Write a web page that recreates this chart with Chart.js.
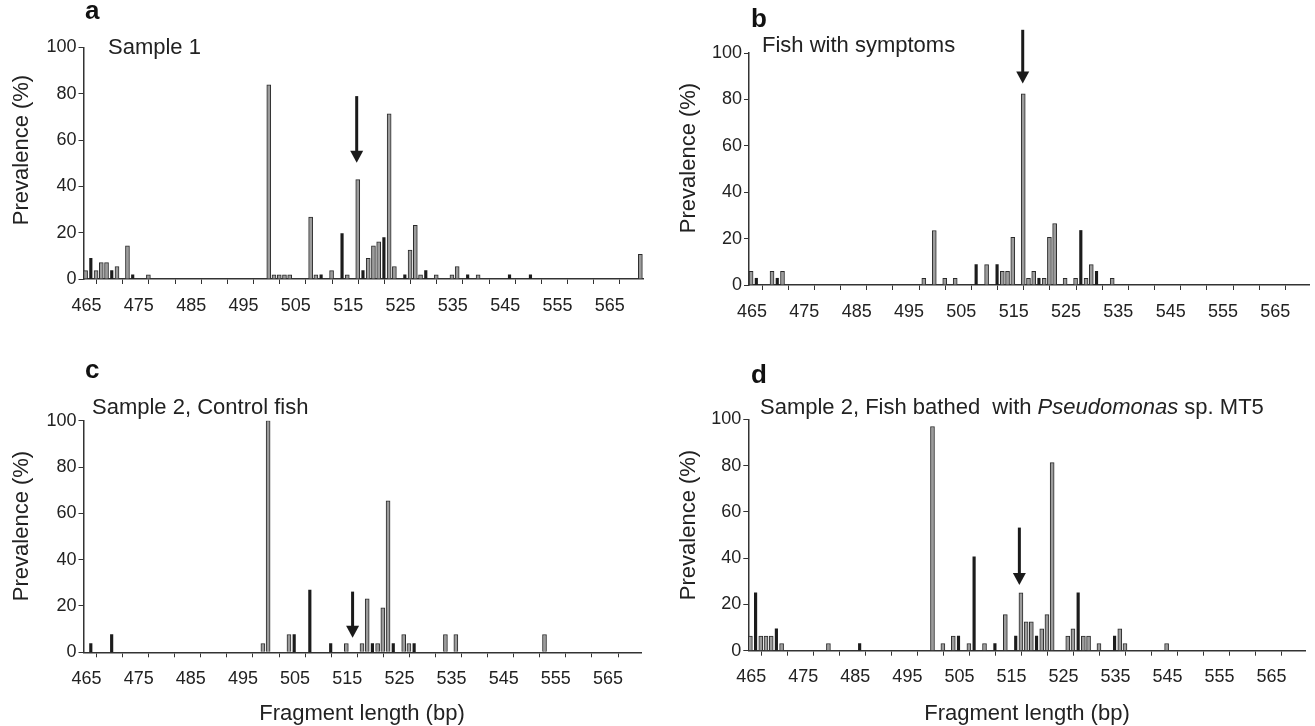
<!DOCTYPE html>
<html>
<head>
<meta charset="utf-8">
<script src="https://cdn.jsdelivr.net/npm/chart.js@4.4.1/dist/chart.umd.min.js"></script>
<style>
body{margin:0;background:#fff;width:1315px;height:726px;overflow:hidden;position:relative;font-family:"Liberation Sans",Arial,sans-serif;color:#222}
canvas{position:absolute}
.t{position:absolute;white-space:pre;font-size:22px;line-height:22px}
.L{position:absolute;font-weight:bold;font-size:26px;line-height:26px;color:#111}
.rot{position:absolute;font-size:22px;line-height:22px;white-space:nowrap;transform:translate(-50%,-50%) rotate(-90deg)}
.ctr{position:absolute;font-size:22px;line-height:22px;white-space:nowrap;transform:translate(-50%,-50%)}
</style>
</head>
<body>
<canvas id="pa" width="658" height="330" style="left:0;top:0"></canvas>
<canvas id="pb" width="650" height="330" style="left:665px;top:0"></canvas>
<canvas id="pc" width="658" height="381" style="left:0;top:345px"></canvas>
<canvas id="pd" width="650" height="381" style="left:665px;top:345px"></canvas>

<div class="L" style="left:85px;top:-3px">a</div>
<div class="L" style="left:751px;top:5px">b</div>
<div class="L" style="left:85px;top:356px">c</div>
<div class="L" style="left:751px;top:361px">d</div>

<div class="t" style="left:108px;top:36px">Sample 1</div>
<div class="t" style="left:762px;top:34px">Fish with symptoms</div>
<div class="t" style="left:92px;top:396px">Sample 2, Control fish</div>
<div class="t" style="left:760px;top:396px">Sample 2, Fish bathed  with <i>Pseudomonas</i> sp. MT5</div>

<div class="rot" style="left:21px;top:150px">Prevalence (%)</div>
<div class="rot" style="left:688px;top:158px">Prevalence (%)</div>
<div class="rot" style="left:21px;top:526px">Prevalence (%)</div>
<div class="rot" style="left:688px;top:525px">Prevalence (%)</div>

<div class="ctr" style="left:362px;top:713px">Fragment length (bp)</div>
<div class="ctr" style="left:1027px;top:713px">Fragment length (bp)</div>

<script>
// fragment length axis
const xTicks = [465,470,475,480,485,490,495,500,505,510,515,520,525,530,535,540,545,550,555,560,565,570];
const xLabels = [465,475,485,495,505,515,525,535,545,555,565];
const yTicks = [0,20,40,60,80,100];

// panel a - Sample 1
const aOpenBp  = [465,467,468,469,471,473,477,500,501,502,503,504,508,509,512,515,517,519,520,521,523,524,527,528,529,532,535,536,540,571];
const aOpenVal = [3.6,3.6,7.1,7.1,5.4,14.3,1.8,83.9,1.8,1.8,1.8,1.8,26.8,1.8,3.6,1.8,42.9,8.9,14.3,16.1,71.4,5.4,12.5,23.2,1.8,1.8,1.8,5.4,1.8,10.7];
const aSolidBp  = [466,470,474,510,514,518,522,526,530,538,546,550];
const aSolidVal = [8.9,3.6,1.8,1.8,19.6,3.6,17.9,1.8,3.6,1.8,1.8,1.8];

// panel b - fish with symptoms
const bOpenBp  = [465,469,471,498,500,502,504,510,513,514,515,517,518,519,521,522,523,525,527,529,530,534];
const bOpenVal = [5.9,5.9,5.9,2.9,23.5,2.9,2.9,8.8,5.9,5.9,20.6,82.4,2.9,5.9,2.9,20.6,26.5,2.9,2.9,2.9,8.8,2.9];
const bSolidBp  = [466,470,508,512,520,528,531];
const bSolidVal = [2.9,2.9,8.8,8.8,2.9,23.5,5.9];

// panel c - sample 2, control fish
const cOpenBp  = [499,500,504,515,518,519,521,522,523,526,527,534,536,553];
const cOpenVal = [3.8,100,7.7,3.8,3.8,23.1,3.8,19.2,65.4,7.7,3.8,7.7,7.7,7.7];
const cSolidBp  = [466,470,505,508,512,520,524,528];
const cSolidVal = [3.8,7.7,7.7,26.9,3.8,3.8,3.8,3.8];

// panel d - sample 2, bathed with Pseudomonas sp. MT5
const dOpenBp  = [465,467,468,469,471,480,500,502,504,507,510,514,517,518,519,521,522,523,526,527,529,530,532,536,537,545];
const dOpenVal = [6.3,6.3,6.3,6.3,3.1,3.1,96.9,3.1,6.3,3.1,3.1,15.6,25,12.5,12.5,9.4,15.6,81.3,6.3,9.4,6.3,6.3,3.1,9.4,3.1,3.1];
const dSolidBp  = [466,470,486,505,508,512,516,520,528,535];
const dSolidVal = [25,9.4,3.1,6.3,40.6,3.1,6.3,6.3,25,6.3];

// arrows (x in bp, y in %)
const arrowX   = [517.2, 517.3, 516.6, 517.1];
const arrowTop = [79, 110, 26.2, 53.2];
const arrowTip = [50.2, 86.9, 6.3, 28.4];

const BIN = 0.4; // bars fill the bin starting at each length

const tickFont = {family: '"Liberation Sans", Arial, sans-serif', size: 18};

const arrowPlugin = {
  id: 'arrowMark',
  afterDatasetsDraw(chart, args, o) {
    const {ctx} = chart;
    const xs = chart.scales.x, ys = chart.scales.y;
    const px = xs.getPixelForValue(o.x);
    const top = ys.getPixelForValue(o.top);
    const tip = ys.getPixelForValue(o.tip);
    ctx.save();
    ctx.strokeStyle = '#1a1a1a';
    ctx.fillStyle = '#1a1a1a';
    ctx.lineWidth = 3;
    ctx.beginPath();
    ctx.moveTo(px, top);
    ctx.lineTo(px, tip - 11);
    ctx.stroke();
    ctx.beginPath();
    ctx.moveTo(px - 6.5, tip - 12);
    ctx.lineTo(px + 6.5, tip - 12);
    ctx.lineTo(px, tip);
    ctx.closePath();
    ctx.fill();
    ctx.restore();
  }
};

function pts(bp, val) {
  return bp.map((b, i) => ({x: b + BIN, y: val[i]}));
}

function makePanel(id, openBp, openVal, solidBp, solidVal, k, box) {
  new Chart(document.getElementById(id), {
    type: 'bar',
    data: {
      datasets: [
        {
          data: pts(openBp, openVal),
          backgroundColor: '#9c9c9c',
          borderColor: '#2b2b2b',
          borderWidth: 1,
          borderSkipped: 'start',
          barThickness: 4,
          grouped: false
        },
        {
          data: pts(solidBp, solidVal),
          backgroundColor: '#1c1c1c',
          borderWidth: 0,
          barThickness: 2.5,
          grouped: false
        }
      ]
    },
    options: {
      responsive: false,
      animation: false,
      events: [],
      layout: {padding: {left: 0, top: box.top, right: box.right, bottom: 0}},
      plugins: {
        legend: {display: false},
        tooltip: {enabled: false},
        arrowMark: {x: arrowX[k], top: arrowTop[k], tip: arrowTip[k]}
      },
      scales: {
        x: {
          type: 'linear',
          min: 465,
          max: 572,
          offset: false,
          afterBuildTicks: s => { s.ticks = xTicks.map(v => ({value: v})); },
          afterFit: s => { s.height = box.xh; },
          ticks: {
            autoSkip: false,
            maxRotation: 0,
            padding: 11,
            labelOffset: 3,
            color: '#222',
            font: tickFont,
            callback: v => xLabels.includes(v) ? String(v) : ''
          },
          grid: {display: true, drawOnChartArea: false, drawTicks: true, tickLength: 5, color: '#333', lineWidth: 1},
          border: {display: true, color: '#333', width: 1.5}
        },
        y: {
          min: 0,
          max: 100,
          afterBuildTicks: s => { s.ticks = yTicks.map(v => ({value: v})); },
          afterFit: s => { s.width = box.yw; },
          ticks: {padding: 2, color: '#222', font: tickFont},
          grid: {display: true, drawOnChartArea: false, drawTicks: true, tickLength: 5, color: '#333', lineWidth: 1},
          border: {display: true, color: '#333', width: 1.5}
        }
      }
    },
    plugins: [arrowPlugin]
  });
}

makePanel('pa', aOpenBp, aOpenVal, aSolidBp, aSolidVal, 0, {top: 47.5, right: 14.5, xh: 51, yw: 83.5});
makePanel('pb', bOpenBp, bOpenVal, bSolidBp, bSolidVal, 1, {top: 53, right: 6, xh: 45, yw: 84});
makePanel('pc', cOpenBp, cOpenVal, cSolidBp, cSolidVal, 2, {top: 75.7, right: 16.5, xh: 73.7, yw: 83.5});
makePanel('pd', dOpenBp, dOpenVal, dSolidBp, dSolidVal, 3, {top: 74.3, right: 10, xh: 75.3, yw: 83.3});
</script>
</body>
</html>
